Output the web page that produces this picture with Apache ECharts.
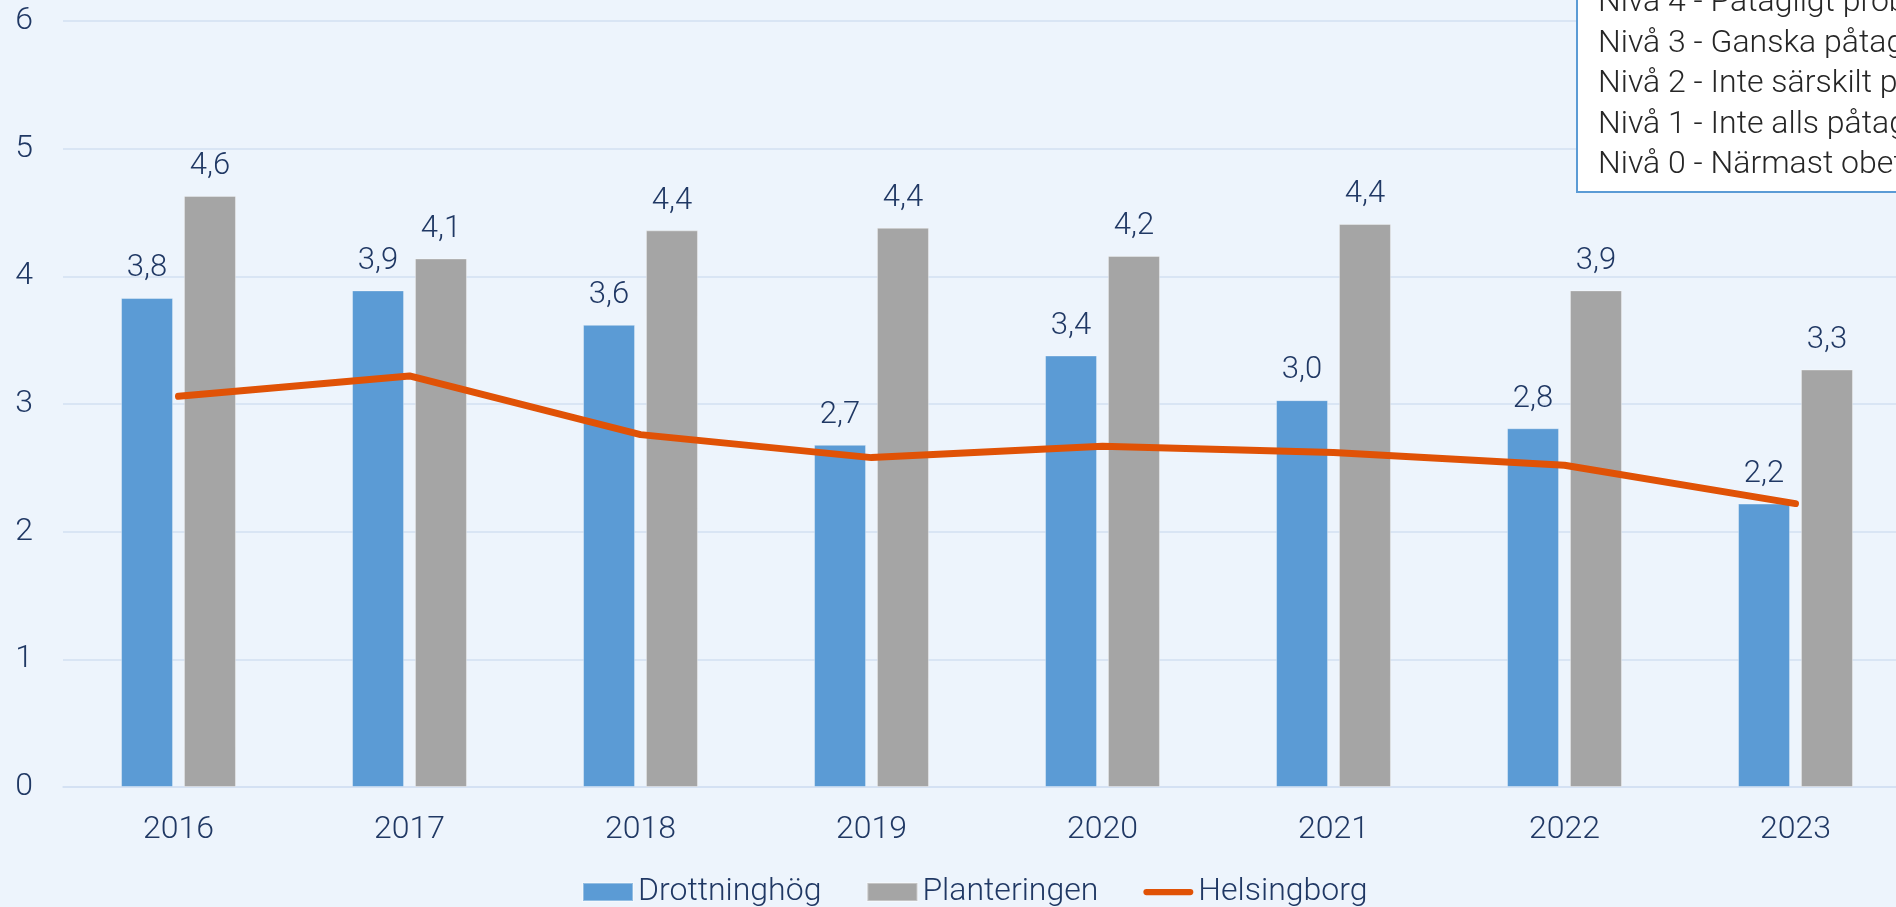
<!DOCTYPE html>
<html>
<head>
<meta charset="utf-8">
<title>Drottninghög – Planteringen – Helsingborg</title>
<script src="https://cdn.jsdelivr.net/npm/echarts@6/dist/echarts.min.js"></script>
<style>
    html, body { margin: 0; padding: 0; background: #edf4fc; }
    #main { width: 1896px; height: 907px; }
</style>
</head>
<body>
<div id="main"></div>
<script>
    // värden
    var years = ['2016', '2017', '2018', '2019', '2020', '2021', '2022', '2023'];
    var drottninghog = [3.83, 3.89, 3.62, 2.68, 3.38, 3.03, 2.81, 2.22];
    var planteringen = [4.63, 4.14, 4.36, 4.38, 4.16, 4.41, 3.89, 3.27];
    var helsingborg = [3.06, 3.22, 2.76, 2.58, 2.67, 2.62, 2.52, 2.22];
    var seriesNames = ['Drottninghög', 'Planteringen', 'Helsingborg'];
    var nivaer = [
        'Nivå 4 - Påtagligt problematiskt',
        'Nivå 3 - Ganska påtagligt problematiskt',
        'Nivå 2 - Inte särskilt påtagligt problematiskt',
        'Nivå 1 - Inte alls påtagligt problematiskt',
        'Nivå 0 - Närmast obefintligt'
    ];

    var navy = '#203864';
    var font = 'Roboto';
    var orange = '#e05206';

    function commaLabel(p) {
        return p.value.toFixed(1).replace('.', ',');
    }

    var barLabel = {
        show: true,
        position: 'top',
        distance: 14,
        formatter: commaLabel,
        color: navy,
        fontSize: 31,
        fontWeight: 300,
        fontFamily: font
    };

    // rutan uppe till höger med nivåerna
    var boxItems = [{
        type: 'rect',
        shape: { x: 1577, y: -30, width: 420, height: 222 },
        style: { fill: '#ffffff', stroke: '#5b9bd5', lineWidth: 2 },
        z: 10
    }];
    nivaer.forEach(function (t, i) {
        boxItems.push({
            type: 'text',
            x: 1598,
            y: 3 + i * 40.6,
            style: {
                text: t,
                fill: '#262626',
                fontSize: 32,
                fontWeight: 300,
                fontFamily: font,
                verticalAlign: 'middle'
            },
            z: 11
        });
    });

    // tjock linje med rundade ändar som legendikon
    var lineIcon = 'path://M3.5,0H52.5A3.5,3.5 0 0 1 52.5,7H3.5A3.5,3.5 0 0 1 3.5,0Z';

    var myChart = echarts.init(document.getElementById('main'));
    myChart.setOption({
        backgroundColor: '#edf4fc',
        animation: false,
        grid: {
            left: 63,
            width: 1848,
            top: 21,
            bottom: 120,
            outerBoundsMode: 'none'
        },
        legend: {
            data: [
                { name: seriesNames[0], icon: 'rect' },
                { name: seriesNames[1], icon: 'rect' },
                { name: seriesNames[2], icon: lineIcon }
            ],
            left: 582,
            top: 876,
            padding: 0,
            itemWidth: 50,
            itemHeight: 18,
            itemGap: 45,
            textStyle: {
                color: navy,
                fontSize: 32,
                fontWeight: 300,
                fontFamily: font
            }
        },
        xAxis: {
            type: 'category',
            data: years,
            axisLine: { show: true, lineStyle: { color: '#d2e0f2', width: 1.5 } },
            axisTick: { show: false },
            axisLabel: {
                margin: 27,
                color: navy,
                fontSize: 32,
                fontWeight: 300,
                fontFamily: font
            }
        },
        yAxis: {
            type: 'value',
            min: 0,
            max: 6,
            interval: 1,
            axisLine: { show: false },
            axisTick: { show: false },
            splitLine: { lineStyle: { color: '#d2e0f2', width: 1.5 } },
            axisLabel: {
                margin: 30,
                color: navy,
                fontSize: 32,
                fontWeight: 300,
                fontFamily: font
            }
        },
        series: [
            {
                name: seriesNames[0],
                type: 'bar',
                data: drottninghog,
                barWidth: 52,
                barGap: '21%',
                itemStyle: { color: '#5b9bd5', borderColor: 'rgba(255,255,255,0.35)', borderWidth: 1 },
                label: barLabel
            },
            {
                name: seriesNames[1],
                type: 'bar',
                data: planteringen,
                barWidth: 52,
                barGap: '21%',
                itemStyle: { color: '#a5a5a5', borderColor: 'rgba(255,255,255,0.35)', borderWidth: 1 },
                label: barLabel
            },
            {
                name: seriesNames[2],
                type: 'line',
                data: helsingborg,
                symbol: 'none',
                z: 5,
                itemStyle: { color: orange },
                lineStyle: { color: orange, width: 7, cap: 'round', join: 'round' }
            }
        ],
        graphic: boxItems
    });
</script>
</body>
</html>
